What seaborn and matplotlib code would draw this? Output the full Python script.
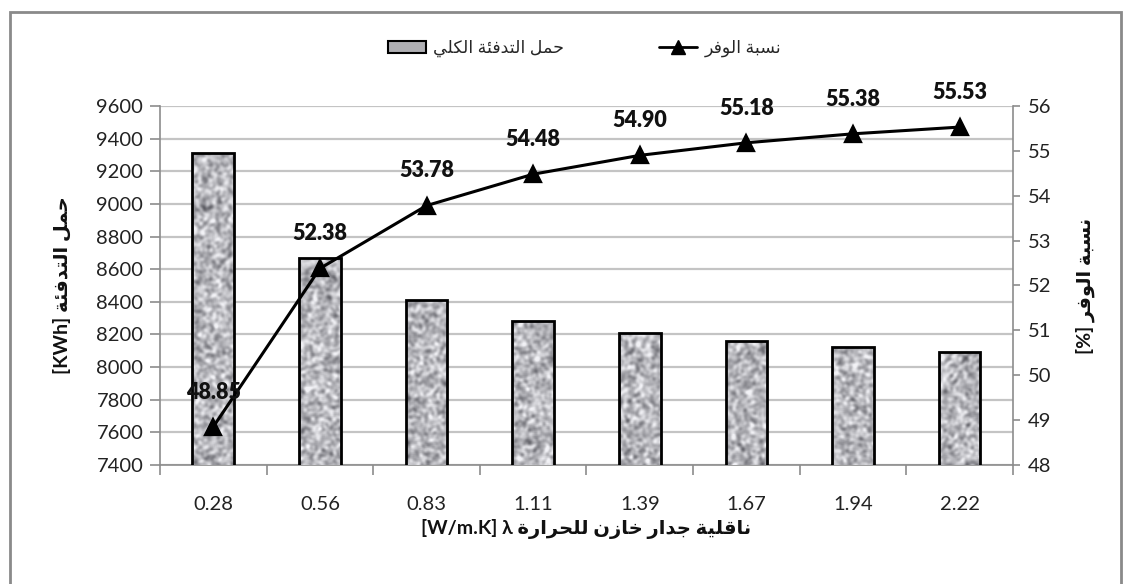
import numpy as np
import pandas as pd
import matplotlib
matplotlib.use("Agg")
import matplotlib.pyplot as plt
from matplotlib.patches import Patch, Rectangle
from matplotlib.lines import Line2D
from matplotlib.colors import LinearSegmentedColormap
import seaborn as sns

# ---- data ----
conductivity = ["0.28", "0.56", "0.83", "1.11", "1.39", "1.67", "1.94", "2.22"]
heating_load = [9310, 8670, 8410, 8285, 8210, 8160, 8120, 8095]      # KWh
saving_ratio = [48.85, 52.38, 53.78, 54.48, 54.90, 55.18, 55.38, 55.53]  # %

load_ticks = list(range(7400, 9601, 200))
ratio_ticks = list(range(48, 57))

# ---- minimal Arabic shaping (presentation forms) + visual ordering ----
FORMS = {  # isolated, final, initial, medial
    "\u0627": ("\uFE8D", "\uFE8E", None, None),
    "\u0628": ("\uFE8F", "\uFE90", "\uFE91", "\uFE92"),
    "\u0629": ("\uFE93", "\uFE94", None, None),
    "\u062A": ("\uFE95", "\uFE96", "\uFE97", "\uFE98"),
    "\u062C": ("\uFE9D", "\uFE9E", "\uFE9F", "\uFEA0"),
    "\u062D": ("\uFEA1", "\uFEA2", "\uFEA3", "\uFEA4"),
    "\u062E": ("\uFEA5", "\uFEA6", "\uFEA7", "\uFEA8"),
    "\u062F": ("\uFEA9", "\uFEAA", None, None),
    "\u0631": ("\uFEAD", "\uFEAE", None, None),
    "\u0632": ("\uFEAF", "\uFEB0", None, None),
    "\u0633": ("\uFEB1", "\uFEB2", "\uFEB3", "\uFEB4"),
    "\u0641": ("\uFED1", "\uFED2", "\uFED3", "\uFED4"),
    "\u0642": ("\uFED5", "\uFED6", "\uFED7", "\uFED8"),
    "\u0643": ("\uFED9", "\uFEDA", "\uFEDB", "\uFEDC"),
    "\u0644": ("\uFEDD", "\uFEDE", "\uFEDF", "\uFEE0"),
    "\u0645": ("\uFEE1", "\uFEE2", "\uFEE3", "\uFEE4"),
    "\u0646": ("\uFEE5", "\uFEE6", "\uFEE7", "\uFEE8"),
    "\u0648": ("\uFEED", "\uFEEE", None, None),
    "\u064A": ("\uFEF1", "\uFEF2", "\uFEF3", "\uFEF4"),
    "\u0626": ("\uFE89", "\uFE8A", "\uFE8B", "\uFE8C"),
}


def ar(text):
    """Shape Arabic letters and return them in left-to-right visual order."""
    chars = list(text)
    out = []
    for i, c in enumerate(chars):
        if c not in FORMS:
            out.append(c)
            continue
        prev = chars[i - 1] if i > 0 else None
        nxt = chars[i + 1] if i + 1 < len(chars) else None
        join_prev = prev in FORMS and FORMS[prev][2] is not None
        join_next = nxt in FORMS and FORMS[c][2] is not None
        iso, fin, ini, med = FORMS[c]
        if join_prev and join_next:
            out.append(med)
        elif join_prev:
            out.append(fin)
        elif join_next:
            out.append(ini)
        else:
            out.append(iso)
    return "".join(out)[::-1]


FAM = ["Lato", "DejaVu Sans"]

sns.set_theme(style="white")
plt.rcParams["font.family"] = FAM

fig = plt.figure(figsize=(11.24, 5.84), dpi=100)
ax = fig.add_axes([0.1423, 0.2038, 0.7589, 0.6147])

df = pd.DataFrame({"k": conductivity, "load": heating_load, "ratio": saving_ratio})

sns.barplot(data=df, x="k", y="load", ax=ax, width=0.39, color="#b0b0b4",
            edgecolor="black", linewidth=2, zorder=3)

# mottled stone texture inside every bar
stone = LinearSegmentedColormap.from_list("stone", ["#55555c", "#f2f2f6"])
rng = np.random.default_rng(11)
noise = rng.random((360, 860))
for _ in range(3):
    noise = (np.roll(noise, 1, 0) + noise + np.roll(noise, -1, 0)) / 3
    noise = (np.roll(noise, 1, 1) + noise + np.roll(noise, -1, 1)) / 3
tex = 0.63 + (noise - noise.mean()) / noise.std() * 0.15
for p in list(ax.patches):
    p.set_facecolor("none")
    p.set_zorder(4)
    im = ax.imshow(tex, extent=(-0.5, 7.5, 7400, 9600), aspect="auto",
                   cmap=stone, vmin=0, vmax=1, interpolation="bilinear",
                   zorder=3, origin="lower")
    im.set_clip_path(p)

ax.set_xlim(-0.5, 7.5)
ax.set_ylim(7400, 9600)
ax.set_yticks(load_ticks)
ax.yaxis.grid(True, color="#c4c4c4", lw=1.6)
ax.set_axisbelow(True)
for s in ["top", "right"]:
    ax.spines[s].set_visible(False)
for s in ["left", "bottom"]:
    ax.spines[s].set_color("#8c8c8c")
    ax.spines[s].set_linewidth(1.2)
ax.tick_params(axis="y", which="major", length=7, color="#8c8c8c", width=1.2,
               labelsize=14.5, pad=5, left=True, labelcolor="#222222")
ax.tick_params(axis="x", which="major", length=0, labelsize=14.5, pad=22,
               labelcolor="#222222")
ax.set_xticks(np.arange(-0.5, 8.0, 1.0), minor=True)
ax.tick_params(axis="x", which="minor", length=7, color="#8c8c8c", width=1.2,
               bottom=True)
ax.set_xlabel("[W/m.K] λ " + ar("ناقلية جدار خازن للحرارة"),
              fontsize=14, fontweight="bold", labelpad=5, color="#111111")
ax.set_ylabel("[KWh] " + ar("حمل التدفئة"), fontsize=14, fontweight="bold",
              labelpad=18, color="#111111")

# saving ratio on the secondary axis
ax2 = ax.twinx()
sns.pointplot(data=df, x="k", y="ratio", ax=ax2, color="black", markers="^",
              linestyles="-", markersize=11, linewidth=2.2, zorder=6)
ax2.set_xlim(-0.5, 7.5)
ax2.set_ylim(48, 56)
ax2.set_yticks(ratio_ticks)
ax2.set_ylabel("[%] " + ar("نسبة الوفر"), fontsize=14, fontweight="bold",
               labelpad=17, color="#111111", rotation=90)
for s in ["top", "left", "bottom"]:
    ax2.spines[s].set_visible(False)
ax2.spines["right"].set_color("#8c8c8c")
ax2.spines["right"].set_linewidth(1.2)
ax2.tick_params(axis="y", length=5, color="#8c8c8c", width=1.2, labelsize=14.5,
                pad=6, right=True, labelcolor="#222222")
ax2.grid(False)

for i, v in enumerate(saving_ratio):
    ax2.annotate(f"{v:.2f}", (i, v), xytext=(0, 25), textcoords="offset points",
                 ha="center", va="center", fontsize=15.5, fontweight="heavy",
                 color="#111111", zorder=7)

# legend across the top
handles = [
    Patch(facecolor="#b0b0b4", edgecolor="black", linewidth=1.5),
    Line2D([0], [0], color="black", lw=2, marker="^", markersize=10),
]
labels = [ar("حمل التدفئة الكلي"), ar("نسبة الوفر")]
fig.legend(handles, labels, loc="center", bbox_to_anchor=(0.52, 0.917), ncol=2,
           frameon=False, fontsize=12.5, columnspacing=5.5, handlelength=2.2,
           handletextpad=0.4)

# outer frame
fig.add_artist(Rectangle((0.009, -0.05), 0.988, 1.05 - 0.0205, transform=fig.transFigure,
                         fill=False, edgecolor="#8a8a8a", lw=2))

fig.savefig("out.png", dpi=100)
